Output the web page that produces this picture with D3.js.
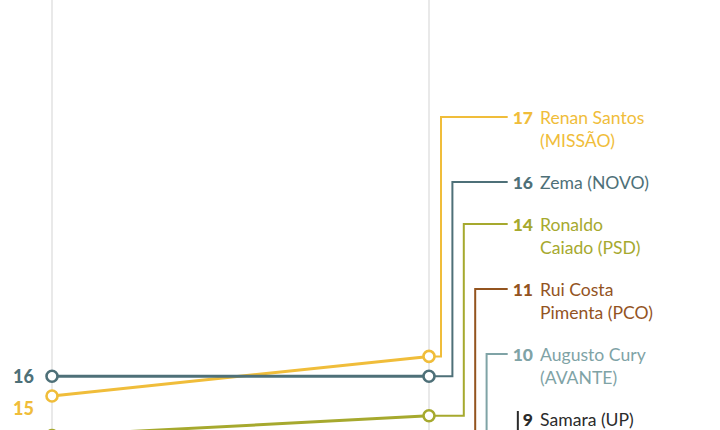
<!DOCTYPE html>
<html>
<head>
<meta charset="utf-8">
<script src="https://cdn.jsdelivr.net/npm/d3@7"></script>
<style>
  html, body { margin: 0; padding: 0; background: #fff; }
  svg { display: block; font-family: Lato, "Open Sans", sans-serif; }
</style>
</head>
<body>
<svg id="chart" width="720" height="430"></svg>
<script>
// ---- data ----
const candidates = ["Renan Santos", "Zema", "Ronaldo Caiado", "Rui Costa Pimenta", "Augusto Cury", "Samara"];
const labelLines = [
  ["Renan Santos", "(MISSÃO)"],
  ["Zema (NOVO)"],
  ["Ronaldo", "Caiado (PSD)"],
  ["Rui Costa", "Pimenta (PCO)"],
  ["Augusto Cury", "(AVANTE)"],
  ["Samara (UP)"]
];
const valuesStart = [15, 16, 13, 10, 9, 8];
const valuesEnd = [17, 16, 14, 11, 10, 9];
const colors = ["#f0bd3a", "#4e7078", "#a6a92e", "#93541f", "#7fa3a6", "#2b2b2b"];
const periods = ["start", "end"];

// ---- layout ----
const W = 720, H = 430;
const svg = d3.select("#chart");
const x = d3.scalePoint().domain(periods).range([52, 429]);
const y = d3.scaleLinear().domain([0, 35]).range([693, 0]);

const data = candidates.map((c, i) => ({
  name: c, lines: labelLines[i], a: valuesStart[i], b: valuesEnd[i], color: colors[i], i
}));

// gridlines
svg.append("g").selectAll("line").data(periods).join("line")
  .attr("x1", d => x(d)).attr("x2", d => x(d))
  .attr("y1", 0).attr("y2", H)
  .attr("stroke", "#e2e2e2").attr("stroke-width", 1.5);

// right label stacking
let cy = 118;
data.forEach(d => {
  d.labelY = cy;
  cy += d.lines.length === 2 ? 65 : 42;
});

const numRight = 533, nameLeft = 540;

// right labels
const rl = svg.append("g");
data.forEach(d => {
  const g = rl.append("g").attr("fill", d.color);
  const num = g.append("text")
    .attr("x", numRight).attr("y", d.labelY).attr("dy", "0.35em")
    .attr("text-anchor", "end").attr("font-weight", 900).attr("font-size", 17.5)
    .text(d.b);
  d.numW = num.node().getComputedTextLength();
  d.lines.forEach((ln, k) => {
    g.append("text")
      .attr("x", nameLeft).attr("y", d.labelY + k * 23).attr("dy", "0.35em")
      .attr("font-size", 17.6).attr("font-weight", 400)
      .text(ln);
  });
});

// connectors (elbows)
const cg = svg.append("g").attr("fill", "none").attr("stroke-width", 2);
data.forEach((d, i) => {
  const lineEnd = numRight - d.numW - 5;
  const py = y(d.b);
  const last = i === data.length - 1;
  const ex = last ? lineEnd : x("end") + 12 + i * 11.4;
  const ty = last ? d.labelY - 9 : d.labelY - 1;
  const path = d3.path();
  path.moveTo(x("end"), py);
  path.lineTo(ex, py);
  path.lineTo(ex, ty);
  path.lineTo(lineEnd, ty);
  cg.append("path").attr("d", path.toString()).attr("stroke", d.color);
});

// slope lines
svg.append("g").selectAll("line").data(data).join("line")
  .attr("x1", x("start")).attr("x2", x("end"))
  .attr("y1", d => y(d.a)).attr("y2", d => y(d.b))
  .attr("stroke", d => d.color).attr("stroke-width", 3);

// circles
const circ = svg.append("g");
data.forEach(d => {
  [["start", d.a], ["end", d.b]].forEach(([p, v]) => {
    circ.append("circle")
      .attr("cx", x(p)).attr("cy", y(v)).attr("r", 5.5)
      .attr("fill", "#fff").attr("stroke", d.color).attr("stroke-width", 2.6);
  });
});

// left labels with dodge (only those inside the visible area)
const sorted = data.slice().sort((p, q) => q.a - p.a);
let prev = -Infinity;
sorted.forEach(d => {
  const ly = Math.max(y(d.a), prev + 32);
  prev = ly;
  if (ly + 9 > H) return;
  svg.append("text")
    .attr("x", 34).attr("y", ly).attr("dy", "0.35em")
    .attr("text-anchor", "end").attr("font-weight", 900).attr("font-size", 18)
    .attr("fill", d.color).text(d.a);
});
</script>
</body>
</html>
